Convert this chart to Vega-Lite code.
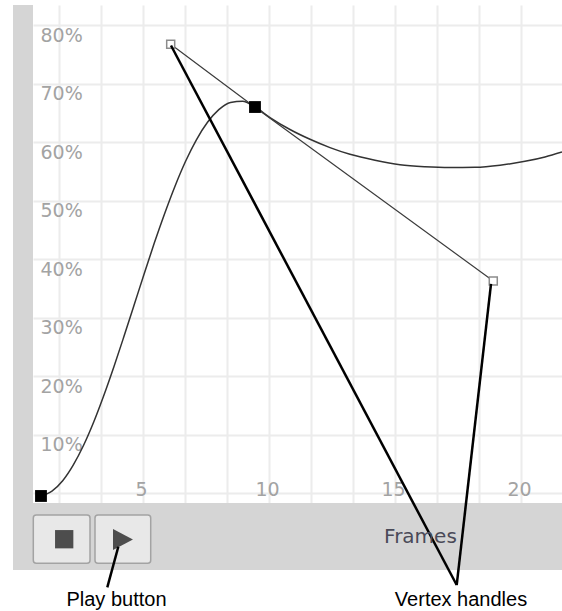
{
  "$schema": "https://vega.github.io/schema/vega-lite/v6.json",
  "description": "Motion editor easing curve with its vertex handles, play controls and callouts.",
  "width": 529,
  "height": 498,
  "autosize": {"type": "none"},
  "padding": {"left": 33, "top": 5, "right": 0, "bottom": 108},
  "background": "white",
  "config": {"view": {"stroke": null}},
  "datasets": {
    "curve": [
      {"frame": 0.952, "pct": -0.513},
      {"frame": 1.388, "pct": 0.308},
      {"frame": 1.813, "pct": 2.085},
      {"frame": 2.23, "pct": 4.752},
      {"frame": 2.643, "pct": 8.154},
      {"frame": 3.048, "pct": 12.171},
      {"frame": 3.448, "pct": 16.701},
      {"frame": 3.849, "pct": 21.624},
      {"frame": 4.246, "pct": 26.786},
      {"frame": 4.647, "pct": 32.12},
      {"frame": 5.044, "pct": 37.453},
      {"frame": 5.448, "pct": 42.718},
      {"frame": 5.857, "pct": 47.744},
      {"frame": 6.27, "pct": 52.444},
      {"frame": 6.69, "pct": 56.701},
      {"frame": 7.119, "pct": 60.376},
      {"frame": 7.56, "pct": 63.368},
      {"frame": 8.008, "pct": 65.538},
      {"frame": 8.472, "pct": 66.769},
      {"frame": 8.952, "pct": 66.957},
      {"frame": 9.444, "pct": 65.983},
      {"frame": 10.04, "pct": 64.188},
      {"frame": 10.833, "pct": 62.137},
      {"frame": 11.627, "pct": 60.462},
      {"frame": 12.421, "pct": 59.043},
      {"frame": 13.214, "pct": 57.897},
      {"frame": 14.206, "pct": 56.872},
      {"frame": 15.198, "pct": 56.103},
      {"frame": 16.19, "pct": 55.761},
      {"frame": 17.183, "pct": 55.624},
      {"frame": 18.175, "pct": 55.675},
      {"frame": 19.167, "pct": 56.034},
      {"frame": 20.159, "pct": 56.701},
      {"frame": 20.952, "pct": 57.453},
      {"frame": 21.627, "pct": 58.291}
    ],
    "tangent": [
      {"frame": 6.099, "pct": 76.7},
      {"frame": 9.444, "pct": 65.93},
      {"frame": 18.9, "pct": 36.24}
    ],
    "handles": [
      {"frame": 6.099, "pct": 76.7},
      {"frame": 18.9, "pct": 36.24}
    ],
    "keys": [
      {"frame": 0.952, "pct": -0.51},
      {"frame": 9.444, "pct": 65.98}
    ],
    "panels": [
      {"frame": -0.159, "frame2": 0.635, "pct": 83.42, "pct2": -13.16},
      {"frame": -0.159, "frame2": 22.5, "pct": -1.709, "pct2": -13.16}
    ],
    "buttons": [
      {"frame": 0.647, "frame2": 2.897, "pct": -3.761, "pct2": -12.02},
      {"frame": 3.095, "frame2": 5.306, "pct": -3.761, "pct2": -12.02}
    ],
    "stop": [{"frame": 1.873, "pct": -7.9}],
    "play": [{"frame": 4.206, "pct": -7.95}],
    "callouts": [
      {"frame": 17.448, "pct": -15.73, "frame2": 6.111, "pct2": 76.5},
      {"frame": 17.448, "pct": -15.73, "frame2": 18.81, "pct2": 35.73},
      {"frame": 4.02, "pct": -9.18, "frame2": 3.583, "pct2": -16.12}
    ],
    "uitext": [{"frame": 16.01, "pct": -8.55, "label": "Frames"}],
    "notes": [
      {"frame": 3.948, "pct": -19.4, "label": "Play button"},
      {"frame": 17.62, "pct": -19.32, "label": "Vertex handles"}
    ]
  },
  "encoding": {
    "x": {
      "field": "frame",
      "type": "quantitative",
      "scale": {"domain": [0.635, 21.627], "nice": false, "zero": false},
      "axis": {
        "title": null,
        "values": [1.6667, 3.3333, 5, 6.6667, 8.3333, 10, 11.6667, 13.3333, 15, 16.6667, 18.3333, 20],
        "domain": false,
        "ticks": false,
        "grid": true,
        "gridColor": "#ececec",
        "gridWidth": 2,
        "labelExpr": "datum.value % 5 == 0 ? format(datum.value, 'd') : ''",
        "labelFont": "DejaVu Sans",
        "labelFontSize": 19,
        "labelColor": "#a3a3a3",
        "labelPadding": -8,
        "labelBaseline": "alphabetic",
        "labelOffset": -2,
        "labelOverlap": false,
        "labelFlush": false
      }
    },
    "y": {
      "field": "pct",
      "type": "quantitative",
      "scale": {"domain": [-1.709, 83.419], "nice": false, "zero": false},
      "axis": {
        "title": null,
        "values": [0, 10, 20, 30, 40, 50, 60, 70, 80],
        "domain": false,
        "ticks": false,
        "grid": true,
        "gridColor": "#ececec",
        "gridWidth": 2,
        "labelExpr": "datum.value == 0 ? '' : datum.value + '%'",
        "labelFont": "DejaVu Sans",
        "labelFontSize": 19,
        "labelColor": "#a3a3a3",
        "labelAlign": "left",
        "labelPadding": -7,
        "labelBaseline": "alphabetic",
        "labelOffset": 16,
        "labelOverlap": false,
        "labelFlush": false
      }
    }
  },
  "layer": [
    {
      "data": {"name": "panels"},
      "mark": {"type": "rect", "color": "#d5d5d5"},
      "encoding": {"x2": {"field": "frame2"}, "y2": {"field": "pct2"}}
    },
    {
      "data": {"name": "buttons"},
      "mark": {"type": "rect", "fill": "#e8e8e8", "stroke": "#a3a3a3", "strokeWidth": 1.5, "cornerRadius": 3},
      "encoding": {"x2": {"field": "frame2"}, "y2": {"field": "pct2"}}
    },
    {
      "data": {"name": "stop"},
      "mark": {"type": "point", "shape": "square", "filled": true, "size": 335, "color": "#4d4d4d", "opacity": 1}
    },
    {
      "data": {"name": "play"},
      "mark": {"type": "point", "shape": "M-0.95,-1L0.95,0L-0.95,1Z", "filled": true, "size": 441, "color": "#4d4d4d", "opacity": 1}
    },
    {
      "data": {"name": "curve"},
      "mark": {"type": "line", "color": "#333333", "strokeWidth": 1.5, "interpolate": "monotone"}
    },
    {
      "data": {"name": "tangent"},
      "mark": {"type": "line", "color": "#3c3c3c", "strokeWidth": 1.2}
    },
    {
      "data": {"name": "handles"},
      "mark": {"type": "point", "shape": "square", "filled": true, "size": 64, "fill": "white", "stroke": "#8c8c8c", "strokeWidth": 1.5, "opacity": 1}
    },
    {
      "data": {"name": "keys"},
      "mark": {"type": "point", "shape": "square", "filled": true, "size": 140, "color": "black", "opacity": 1}
    },
    {
      "data": {"name": "callouts"},
      "mark": {"type": "rule", "color": "black", "strokeWidth": 2.5},
      "encoding": {"x2": {"field": "frame2"}, "y2": {"field": "pct2"}}
    },
    {
      "data": {"name": "uitext"},
      "mark": {"type": "text", "font": "DejaVu Sans", "fontSize": 20, "color": "#4a4a58", "align": "center", "baseline": "alphabetic"},
      "encoding": {"text": {"field": "label"}}
    },
    {
      "data": {"name": "notes"},
      "mark": {"type": "text", "font": "Liberation Sans", "fontSize": 20, "color": "black", "align": "center", "baseline": "alphabetic"},
      "encoding": {"text": {"field": "label"}}
    }
  ]
}
